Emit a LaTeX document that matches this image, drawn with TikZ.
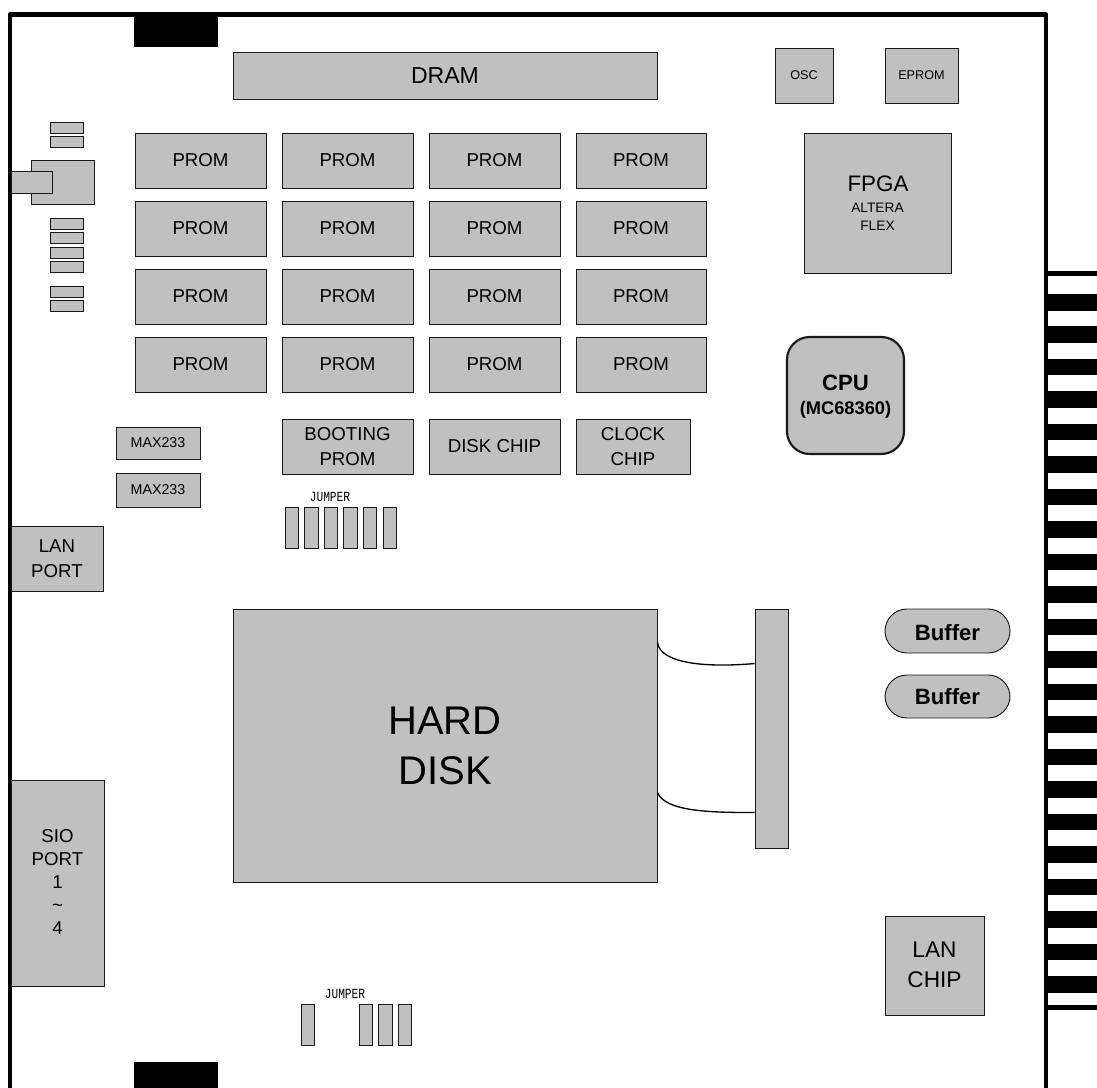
\documentclass[tikz,border=0pt]{standalone}
\usepackage{fontspec}
\setmainfont{Liberation Sans}
\newfontfamily\jumperfont[FakeStretch=0.8]{Liberation Mono}
\usetikzlibrary{calc}
\definecolor{chipgray}{HTML}{C0C0C0}
\tikzset{
  chip/.style={draw=black!90, fill=chipgray, line width=0.7pt},
  chiptext/.style={font=\fontsize{14}{18.5}\selectfont, align=center},
  smalltext/.style={font=\fontsize{9.5}{11.5}\selectfont, align=center},
  boldtext/.style={font=\bfseries\fontsize{16.6}{20}\selectfont, align=center},
  jumpertext/.style={font=\jumperfont\fontsize{10.5}{11}\selectfont},
  cable/.style={draw=black, line width=1pt},
  edgebar/.style={fill=black, draw=none}
}
\begin{document}
\begin{tikzpicture}[x=0.75pt, y=-0.75pt]
  \useasboundingbox (0,0) rectangle (1097,1088);

  % Board outline
  \fill[edgebar] (134,14) rectangle (218,47);
  \fill[edgebar] (134,1062) rectangle (218,1088);
  \draw[line width=3.6pt, line join=round] (10,1088) -- (10,14.5) -- (1046,14.5) -- (1046,1088);

  % Edge connector (right)
  \fill[edgebar] (1048,271) rectangle (1097,276);
  \foreach \i in {0,...,21}
    \fill[edgebar] (1048,294+32.48*\i) rectangle (1097,310.5+32.48*\i);
  \fill[edgebar] (1048,1005) rectangle (1097,1010);

  % Top row
  \draw[chip] (233,52) rectangle (657,99) node[midway, chiptext, font=\fontsize{17.3}{20}\selectfont] (dram) {DRAM};
  \draw[chip] (775,48) rectangle (833,103) node[midway, smalltext] (osc) {OSC};
  \draw[chip] (885,48) rectangle (958,103) node[midway, smalltext] (eprom) {EPROM};

  % FPGA
  \draw[chip] (804,133) rectangle (951,273);
  \node[chiptext, font=\fontsize{16.8}{20}\selectfont] (fpga) at (878,184) {FPGA};
  \node[smalltext, font=\fontsize{10.3}{13.5}\selectfont] (altera) at (877.5,217) {ALTERA\\FLEX};

  % Small parts next to the PROMs
  \foreach \y in {122,136,218,232,247,261,286,300}
    \draw[chip] (50,\y) rectangle (83,\y+11);
  \draw[chip] (31,160) rectangle (94,204);
  \draw[chip] (11,171) rectangle (52,193);

  % PROM array
  \foreach \col/\x/\w in {1/135/131, 2/282/131, 3/429/131, 4/576/130}
    \foreach \row/\y in {1/133, 2/201, 3/269, 4/337}
      \draw[chip] (\x,\y) rectangle (\x+\w,\y+55) node[midway, chiptext] (prom\row\col) {PROM};

  % Row under the PROMs
  \draw[chip] (116,427) rectangle (200,459) node[midway, smalltext, font=\fontsize{10.7}{12}\selectfont] (maxa) {MAX233};
  \draw[chip] (116,473) rectangle (200,507) node[midway, smalltext, font=\fontsize{10.7}{12}\selectfont] (maxb) {MAX233};
  \draw[chip] (282,419) rectangle (413,474) node[midway, chiptext] (boot) {BOOTING\\PROM};
  \draw[chip] (429,419) rectangle (560,474) node[midway, chiptext] (diskchip) {DISK CHIP};
  \draw[chip] (576,419) rectangle (690,474) node[midway, chiptext] (clock) {CLOCK\\CHIP};

  % CPU
  \draw[chip, line width=1.6pt, rounded corners=17pt] (787,337) rectangle (904,454);
  \node[boldtext] (cpu) at (845.5,383) {CPU};
  \node[boldtext, font=\bfseries\fontsize{13.7}{16}\selectfont] (mc) at (845.5,410) {(MC68360)};

  % Jumpers
  \node[jumpertext] (jumpa) at (330,497) {JUMPER};
  \foreach \x in {285,304.5,324,343.5,363,383}
    \draw[chip] (\x,507) rectangle (\x+13.5,548);
  \node[jumpertext] (jumpb) at (345,994) {JUMPER};
  \foreach \x in {301,359,378.5,398}
    \draw[chip] (\x,1004) rectangle (\x+13.5,1045.5);

  % Ports
  \draw[chip] (11,526) rectangle (103,591) node[midway, chiptext] (lanport) {LAN\\PORT};
  \draw[chip] (11,780) rectangle (104,986) node[midway, chiptext, font=\fontsize{14}{17.25}\selectfont, yshift=0.75pt] (sio) {SIO\\PORT\\1\\\textasciitilde\\4};

  % Hard disk and its connector
  \node[chip, chiptext, font=\fontsize{30}{37.5}\selectfont, minimum width=318pt, minimum height=204.75pt, inner sep=0pt] (hdisk) at (445,745.5) {HARD\\DISK};
  \node[chip, minimum width=24.75pt, minimum height=179.25pt, inner sep=0pt] (hconn) at (771.5,728.5) {};
  \draw[cable] ($(hdisk.north east)+(0,34)$) .. controls +(3,22) and +(-45,4) .. ($(hconn.north west)+(0,55)$);
  \draw[cable] ($(hdisk.north east)+(0,184)$) .. controls +(8,19) and +(-45,0) .. ($(hconn.north west)+(0,204)$);

  % Buffers
  \draw[chip, rounded corners=16.5pt] (885,609) rectangle (1010,653) node[midway, boldtext, yshift=-1pt] (bufa) {Buffer};
  \draw[chip, rounded corners=16.5pt] (885,675) rectangle (1010,718) node[midway, boldtext] (bufb) {Buffer};

  % LAN chip
  \draw[chip] (885,916) rectangle (984,1015) node[midway, chiptext, font=\fontsize{17}{22.5}\selectfont, yshift=0.75pt] (lanchip) {LAN\\CHIP};
\end{tikzpicture}
\end{document}
